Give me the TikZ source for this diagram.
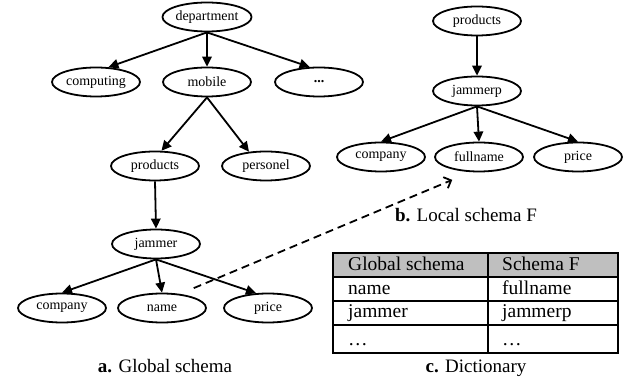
\documentclass[tikz,border=0pt]{standalone}
\usepackage{fontspec}
\setmainfont{Liberation Serif}
\usetikzlibrary{arrows.meta,shapes.geometric}
\tikzset{
  elem/.style={draw, ellipse, line width=1.8pt, minimum width=88pt, minimum height=29pt, inner sep=0pt, font=\fontsize{14}{16}\selectfont},
  edge/.style={line width=1.8pt, -{Triangle[length=10pt,width=9.5pt]}},
  link/.style={line width=1.8pt, dash pattern=on 8pt off 5pt, -{Straight Barb[length=6pt,width=12pt]}},
  caption/.style={anchor=base, inner sep=0pt, font=\fontsize{19}{22}\selectfont},
  cell/.style={anchor=base west, inner sep=0pt, font=\fontsize{19.5}{22}\selectfont}
}
\begin{document}
\begin{tikzpicture}[x=1pt,y=-1pt]
		\useasboundingbox (0,0) rectangle (632,379);
		% global schema
		\node[elem] (dep) at (207,17) {department};
		\node[elem] (comp) at (96,82) {computing};
		\node[elem] (mob) at (207,82) {mobile};
		\node[elem] (more) at (319,82) {\textbf{...}};
		\node[elem] (prod) at (155,166) {products};
		\node[elem] (pers) at (266,166) {personel};
		\node[elem] (jam) at (156,244) {jammer};
		\node[elem] (gcomp) at (62,308) {company};
		\node[elem] (name) at (162,308) {name};
		\node[elem] (gprice) at (268,308) {price};
		\draw[edge] (dep.south) -- (comp.50);
		\draw[edge] (dep.south) -- (mob.north);
		\draw[edge] (dep.south) -- (more.122);
		\draw[edge] (mob.south) -- (prod.67);
		\draw[edge] (mob.south) -- (pers.140);
		\draw[edge] (prod.south) -- (jam.north);
		\foreach \n in {gcomp,name} \draw[edge] (jam.south) -- (\n.north);
		\draw[edge] (jam.south) -- (gprice.129);
		\node[caption] (capa) at (165,373) {\textbf{a.} Global schema};
		% local schema F
		\node[elem] (lprod) at (477,21) {products};
		\node[elem] (jamp) at (477,91) {jammerp};
		\node[elem] (lcomp) at (381,157) {company};
		\node[elem] (fulln) at (479,157) {fullname};
		\node[elem] (lprice) at (578,157) {price};
		\draw[edge] (lprod.south) -- (jamp.north);
		\foreach \n in {lcomp,fulln,lprice} \draw[edge] (jamp.south) -- (\n.north);
		\node[caption] (capb) at (466,222) {\textbf{b.} Local schema F};
		\draw[link] ([yshift=9pt]name.north east) -- ([shift={(5pt,-12pt)}]fulln.south west);
		% dictionary
		\fill[black!25] (333,253) rectangle (618,277);
		\draw[line width=1.8pt] (333,253) rectangle (618,353);
		\draw[line width=1.8pt] (488,253) -- (488,353);
		\foreach \y in {277,301,325}
		\draw[line width=1.8pt] (333,\y) -- (618,\y);
		\node[cell] (g0) at (348,271) {Global schema};
		\node[cell] (f0) at (502,271) {Schema F};
		\node[cell] (g1) at (348,295) {name};
		\node[cell] (f1) at (502,295) {fullname};
		\node[cell] (g2) at (348,318) {jammer};
		\node[cell] (f2) at (502,318) {jammerp};
		\node[cell] (g3) at (348,345) {\ldots};
		\node[cell] (f3) at (502,345) {\ldots};
		\node[caption] (capc) at (476,372) {\textbf{c.} Dictionary};
		\end{tikzpicture}
\end{document}
